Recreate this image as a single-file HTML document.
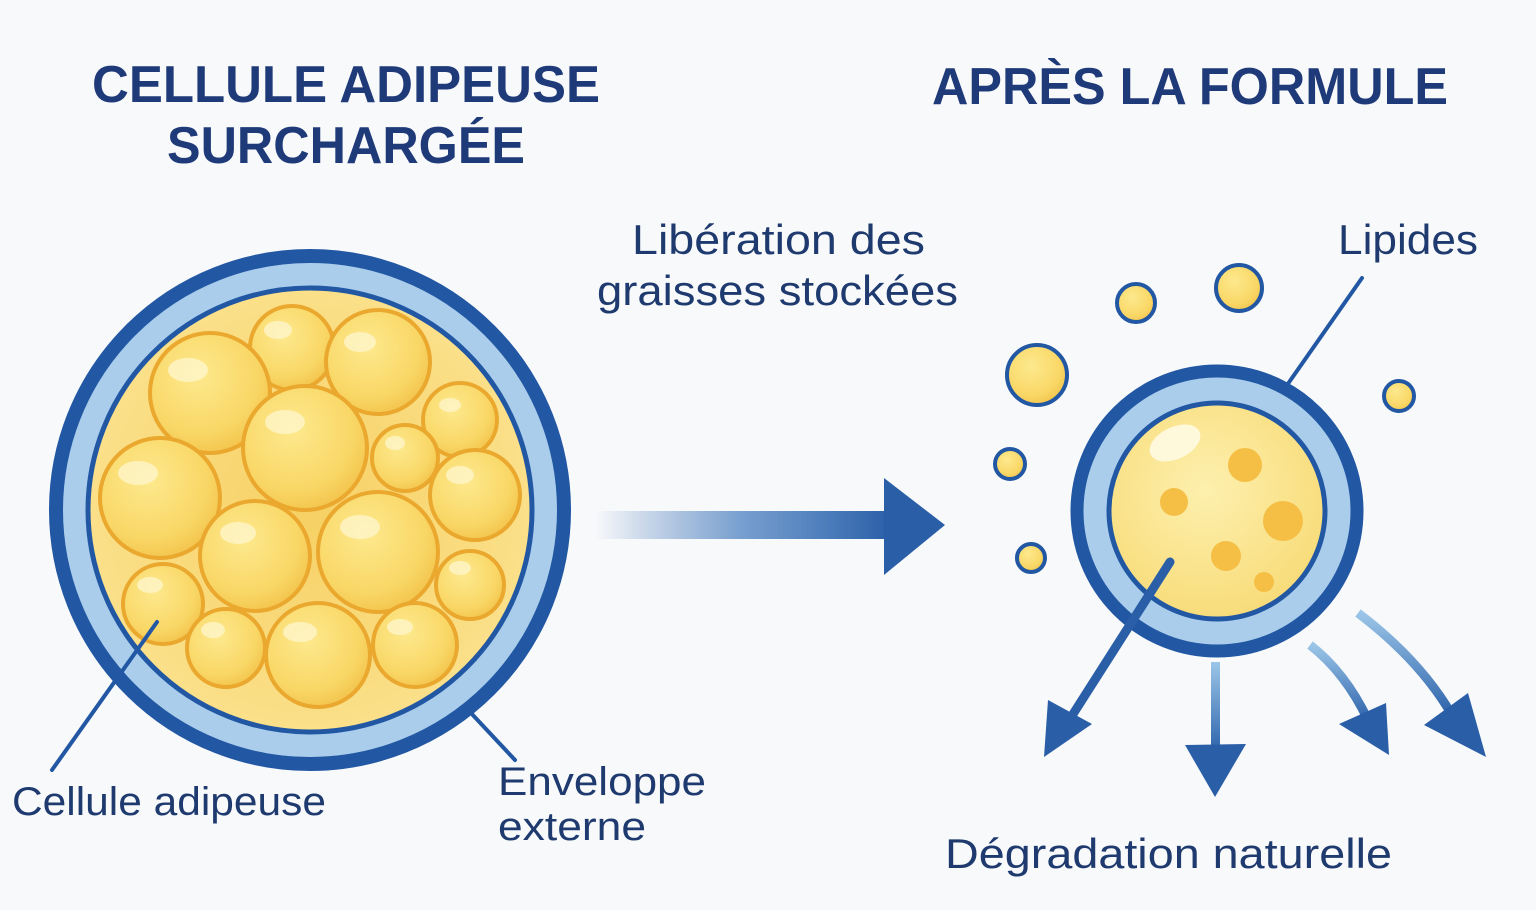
<!DOCTYPE html>
<html><head><meta charset="utf-8"><style>
html,body{margin:0;padding:0;background:#f8f9fb;}
svg{display:block;}
text{font-family:"Liberation Sans",sans-serif;}
</style></head><body>
<svg width="1536" height="910" viewBox="0 0 1536 910" xmlns="http://www.w3.org/2000/svg">
<defs>
<radialGradient id="bub" cx="0.4" cy="0.35" r="0.7">
<stop offset="0" stop-color="#fde98e"/><stop offset="0.7" stop-color="#f9d766"/><stop offset="1" stop-color="#f2c24a"/>
</radialGradient>
<radialGradient id="cellbg" cx="0.5" cy="0.5" r="0.5">
<stop offset="0" stop-color="#f6d063"/><stop offset="1" stop-color="#fbe08a"/>
</radialGradient>
<radialGradient id="rcell" cx="0.45" cy="0.4" r="0.6">
<stop offset="0" stop-color="#fdf0ae"/><stop offset="1" stop-color="#f8dc7a"/>
</radialGradient>
<linearGradient id="mainarr" x1="0" x2="1" y1="0" y2="0">
<stop offset="0" stop-color="#2f66ad" stop-opacity="0"/><stop offset="0.5" stop-color="#3f78bc" stop-opacity="0.7"/><stop offset="1" stop-color="#2a5fa8"/>
</linearGradient>
<linearGradient id="fadeA" x1="0" y1="0" x2="0" y2="1">
<stop offset="0" stop-color="#9cc6e8"/><stop offset="1" stop-color="#2d63ab"/>
</linearGradient>
</defs>
<rect width="1536" height="910" fill="#f8f9fb"/>

<text x="92" y="102" textLength="508" lengthAdjust="spacingAndGlyphs" font-size="52" font-weight="bold" fill="#1f3a78">CELLULE ADIPEUSE</text>
<text x="167" y="163" textLength="358" lengthAdjust="spacingAndGlyphs" font-size="52" font-weight="bold" fill="#1f3a78">SURCHARGÉE</text>
<text x="932" y="104" textLength="516" lengthAdjust="spacingAndGlyphs" font-size="52" font-weight="bold" fill="#1f3a78">APRÈS LA FORMULE</text>

<text x="632" y="254" textLength="293" lengthAdjust="spacingAndGlyphs" font-size="42" fill="#1e3a6e">Libération des</text>
<text x="597" y="305" textLength="361" lengthAdjust="spacingAndGlyphs" font-size="42" fill="#1e3a6e">graisses stockées</text>
<text x="1338" y="254" textLength="140" lengthAdjust="spacingAndGlyphs" font-size="42" fill="#1e3a6e">Lipides</text>
<text x="12" y="815" textLength="314" lengthAdjust="spacingAndGlyphs" font-size="40" fill="#1e3a6e">Cellule adipeuse</text>
<text x="498" y="795" textLength="208" lengthAdjust="spacingAndGlyphs" font-size="40" fill="#1e3a6e">Enveloppe</text>
<text x="498" y="840" textLength="148" lengthAdjust="spacingAndGlyphs" font-size="40" fill="#1e3a6e">externe</text>
<text x="945" y="868" textLength="447" lengthAdjust="spacingAndGlyphs" font-size="42" fill="#1e3a6e">Dégradation naturelle</text>

<!-- left cell -->
<circle cx="310" cy="510" r="254" fill="#a9cdeb" stroke="#2257a3" stroke-width="14"/>
<circle cx="310" cy="510" r="222" fill="url(#cellbg)" stroke="#2257a3" stroke-width="5"/>
<g stroke="#eaa82e" stroke-width="4" fill="url(#bub)">
<circle cx="292" cy="348" r="42"/>
<circle cx="378" cy="362" r="52"/>
<circle cx="210" cy="393" r="60"/>
<circle cx="460" cy="420" r="37"/>
<circle cx="305" cy="448" r="62"/>
<circle cx="405" cy="458" r="33"/>
<circle cx="160" cy="498" r="60"/>
<circle cx="475" cy="495" r="45"/>
<circle cx="255" cy="556" r="55"/>
<circle cx="378" cy="552" r="60"/>
<circle cx="163" cy="604" r="40"/>
<circle cx="470" cy="585" r="34"/>
<circle cx="226" cy="648" r="39"/>
<circle cx="318" cy="655" r="52"/>
<circle cx="415" cy="645" r="42"/>
</g>
<g fill="#fff7cf" opacity="0.75">
<ellipse cx="278" cy="330" rx="14" ry="9"/><ellipse cx="360" cy="342" rx="16" ry="10"/>
<ellipse cx="188" cy="370" rx="20" ry="12"/><ellipse cx="450" cy="405" rx="11" ry="7"/>
<ellipse cx="285" cy="422" rx="20" ry="12"/><ellipse cx="395" cy="443" rx="10" ry="7"/>
<ellipse cx="138" cy="473" rx="20" ry="12"/><ellipse cx="460" cy="475" rx="14" ry="9"/>
<ellipse cx="238" cy="533" rx="18" ry="11"/><ellipse cx="360" cy="527" rx="20" ry="12"/>
<ellipse cx="150" cy="585" rx="13" ry="8"/><ellipse cx="460" cy="568" rx="11" ry="7"/>
<ellipse cx="213" cy="630" rx="12" ry="8"/><ellipse cx="300" cy="632" rx="17" ry="10"/>
<ellipse cx="400" cy="627" rx="13" ry="8"/>
</g>
<line x1="157" y1="622" x2="52" y2="770" stroke="#2257a3" stroke-width="4" stroke-linecap="round"/>
<line x1="470" y1="712" x2="515" y2="760" stroke="#2257a3" stroke-width="4" stroke-linecap="round"/>

<!-- main arrow -->
<rect x="595" y="511" width="295" height="28" fill="url(#mainarr)"/>
<polygon points="884,478 945,525 884,575" fill="#2a5fa8"/>

<!-- droplets -->
<g stroke="#2257a3" stroke-width="4" fill="url(#bub)">
<circle cx="1136" cy="303" r="19"/>
<circle cx="1239" cy="288" r="23"/>
<circle cx="1037" cy="375" r="30"/>
<circle cx="1399" cy="396" r="15"/>
<circle cx="1010" cy="464" r="15"/>
<circle cx="1031" cy="558" r="14"/>
</g>

<!-- right cell -->
<line x1="1362" y1="278" x2="1285" y2="388" stroke="#2257a3" stroke-width="4" stroke-linecap="round"/>
<circle cx="1217" cy="511" r="140" fill="#a9cdeb" stroke="#2257a3" stroke-width="13"/>
<circle cx="1217" cy="511" r="108" fill="url(#rcell)" stroke="#2257a3" stroke-width="5"/>
<ellipse cx="1175" cy="443" rx="27" ry="16" fill="#fffbe8" opacity="0.85" transform="rotate(-25 1175 443)"/>
<g fill="#f5bf45">
<circle cx="1245" cy="465" r="17"/><circle cx="1174" cy="502" r="14"/>
<circle cx="1283" cy="521" r="20"/><circle cx="1226" cy="556" r="15"/>
<circle cx="1264" cy="582" r="10"/>
</g>

<!-- down arrows -->
<line x1="1170" y1="562" x2="1068" y2="722" stroke="#2a5fa8" stroke-width="9" stroke-linecap="round"/>
<polygon points="1044,757 1048,700 1092,724" fill="#2a5fa8"/>
<rect x="1211" y="662" width="9" height="90" fill="url(#fadeA)"/>
<polygon points="1185,745 1246,744 1215,797" fill="#2a5fa8"/>
<path d="M1310,645 Q1345,672 1368,720" fill="none" stroke="url(#fadeA)" stroke-width="9"/>
<polygon points="1339,724 1386,703 1389,755" fill="#2a5fa8"/>
<path d="M1358,613 Q1420,660 1452,715" fill="none" stroke="url(#fadeA)" stroke-width="9"/>
<polygon points="1424,725 1468,693 1486,757" fill="#2a5fa8"/>
</svg>
</body></html>
